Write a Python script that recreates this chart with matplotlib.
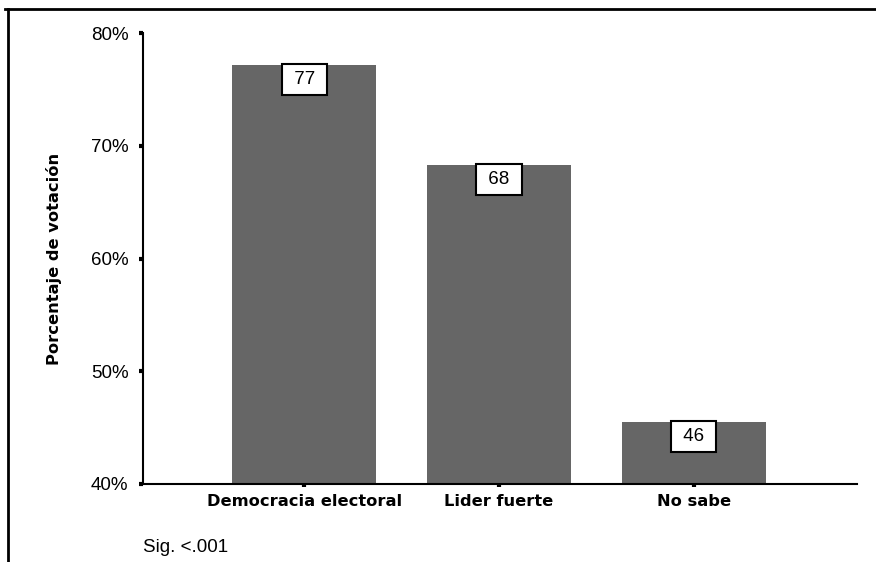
import matplotlib
matplotlib.use("Agg")
from matplotlib import pyplot as plt
from matplotlib.lines import Line2D

# data
categorias = ["Democracia electoral", "Lider fuerte", "No sabe"]
porcentajes = [77.2, 68.3, 45.5]
etiquetas = ["77", "68", "46"]
yticks = [40, 50, 60, 70, 80]
ytick_labels = ["40%", "50%", "60%", "70%", "80%"]

normal = "Liberation Sans"
negrita = "DejaVu Sans"

fig = plt.figure(figsize=(8.76, 5.62), dpi=100)
ax = fig.add_axes([143 / 876, 78 / 562, 714 / 876, 451 / 562])

x = list(range(len(categorias)))
ax.bar(x, porcentajes, width=0.74, color="#666666", zorder=2)

for xi, v, lab in zip(x, porcentajes, etiquetas):
    ax.annotate(" " + lab + " ", (xi, v), xytext=(0, -10.5), textcoords="offset points",
                ha="center", va="center", fontsize=13.5, family=normal, zorder=5,
                bbox=dict(boxstyle="square,pad=0.38", fc="white", ec="black", lw=1.5))

ax.set_xlim(-0.83, 2.84)
ax.set_ylim(40, 80)
ax.set_yticks(yticks)
ax.set_yticklabels(ytick_labels, family=normal, fontsize=13.5)
ax.set_xticks(x)
ax.set_xticklabels(categorias, family=negrita, fontweight="heavy", fontsize=11.7)

ax.spines["top"].set_visible(False)
ax.spines["right"].set_visible(False)
ax.spines["left"].set_linewidth(1.5)
ax.spines["bottom"].set_linewidth(1.5)
ax.tick_params(axis="y", direction="out", length=3, width=3, pad=7.5)
ax.tick_params(axis="x", direction="out", length=2.5, width=3, pad=4.5)

ax.set_ylabel("Porcentaje de votación", family=negrita, fontweight="heavy", fontsize=11.7)
ax.yaxis.set_label_coords(-0.113, 0.5)

fig.text(143 / 876, 14 / 562, "Sig. <.001", family=normal, fontsize=13.5, va="center", ha="left")

# outer frame lines (top and left)
fig.add_artist(Line2D([5 / 876, 1], [1 - 9 / 562, 1 - 9 / 562], color="black", lw=2,
                      transform=fig.transFigure))
fig.add_artist(Line2D([8 / 876, 8 / 876], [0, 1 - 9 / 562], color="black", lw=2,
                      transform=fig.transFigure))

fig.savefig("out.png", dpi=100)
